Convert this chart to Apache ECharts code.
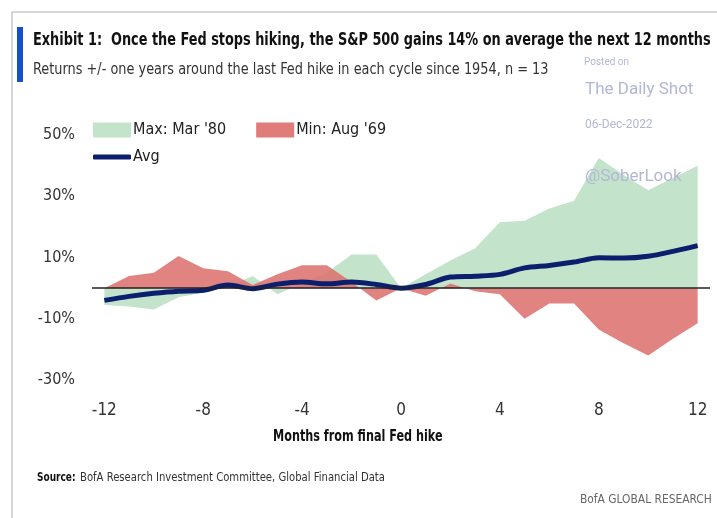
<!DOCTYPE html>
<html>
<head>
<meta charset="utf-8">
<script src="https://cdn.jsdelivr.net/npm/echarts@6/dist/echarts.min.js"></script>
<style>
  html, body { margin: 0; padding: 0; background: #fff; }
  #chart { width: 717px; height: 518px; }
</style>
</head>
<body>
<div id="chart"></div>
<script>
// months around the last hike
const months = ['-12', '-11', '-10', '-9', '-8', '-7', '-6', '-5', '-4', '-3', '-2', '-1', '0',
  '1', '2', '3', '4', '5', '6', '7', '8', '9', '10', '11', '12']
// Max: Mar '80 (%)
const maxMar80 = [-5.5, -6, -7, -3, -1.5, 0.5, 4, -2, 1.5, 5, 11, 11, 0,
  4.5, 9, 13, 21.5, 22, 26, 28.5, 42.5, 37, 32, 36, 40]
// Min: Aug '69 (%)
const minAug69 = [0, 4, 5, 10.5, 6.5, 5.5, 1, 4.5, 7.5, 7.5, 2, -4, 0,
  -2.5, 1.5, -1, -2, -10, -5, -5, -13.5, -18, -22, -16.5, -11.5]
// average of 13 cycles (%)
const avg = [-4, -2.7, -1.7, -1, -0.7, 1, -0.2, 1.3, 2, 1.4, 2, 1.2, 0,
  1.2, 3.6, 3.9, 4.5, 6.6, 7.4, 8.5, 9.9, 9.8, 10.4, 12, 13.9]
const yTicks = { min: -30, max: 50, step: 20 }

const font = "'DejaVu Sans Condensed', 'Liberation Sans Narrow', 'Noto Sans', sans-serif"
const mark = '#b3b7d6' // watermark colour

const myChart = echarts.init(document.getElementById('chart'), null, { renderer: 'canvas' })

// text helper, squeezed a bit to look like the condensed original font
const txt = (x, y, text, f, fill, sx) => ({
  type: 'text', x: x, y: y, z: 100, scaleX: sx || 1,
  style: { text: text, font: f, fill: fill, textVerticalAlign: 'middle' }
})

const option = {
  animation: false,
  backgroundColor: '#fff',
  textStyle: { fontFamily: font },
  grid: { left: 92, right: 7, top: 135, bottom: 138 },
  legend: [
    {
      left: 88, top: 117,
      itemWidth: 38, itemHeight: 15, itemGap: 30,
      icon: 'rect',
      data: ['Max: Mar \'80', 'Min: Aug \'69'],
      textStyle: { fontFamily: font, fontSize: 16, color: '#222', padding: [0, 0, 0, -3] }
    },
    {
      left: 88, top: 144,
      itemWidth: 38, itemHeight: 5,
      icon: 'roundRect',
      data: ['Avg'],
      textStyle: { fontFamily: font, fontSize: 16, color: '#222', padding: [0, 0, 0, -3] }
    }
  ],
  xAxis: {
    type: 'category',
    data: months,
    boundaryGap: true,
    axisLine: { show: false },
    axisTick: { show: false },
    splitLine: { show: false },
    axisLabel: { interval: 3, margin: 22, fontSize: 17, color: '#333', fontFamily: font }
  },
  yAxis: {
    type: 'value',
    min: yTicks.min, max: yTicks.max, interval: yTicks.step,
    axisLine: { show: false },
    axisTick: { show: false },
    splitLine: { show: false },
    axisLabel: { formatter: '{value}%', margin: 17, fontSize: 16, color: '#333', fontFamily: font }
  },
  series: [
    {
      name: 'Max: Mar \'80',
      type: 'line',
      data: maxMar80,
      symbol: 'none',
      z: 1,
      itemStyle: { color: '#c3e3ca' },
      lineStyle: { width: 0 },
      areaStyle: { color: '#c3e3ca', opacity: 1 }
    },
    {
      name: 'Min: Aug \'69',
      type: 'line',
      data: minAug69,
      symbol: 'none',
      z: 2,
      itemStyle: { color: '#e07c7a' },
      lineStyle: { width: 0 },
      areaStyle: { color: '#dc7270', opacity: 0.88 },
      markLine: {
        silent: true,
        symbol: 'none',
        label: { show: false },
        lineStyle: { color: '#222', width: 1.5, type: 'solid' },
        data: [{ yAxis: 0 }]
      }
    },
    {
      name: 'Avg',
      type: 'line',
      data: avg.map((v, i) => i === avg.length - 1
        ? { value: v, label: { show: true, position: 'top', distance: 7, formatter: '14%', fontSize: 18, color: '#222', fontFamily: font } }
        : v),
      symbol: 'none',
      smooth: 0.3,
      z: 3,
      itemStyle: { color: '#0b1f6e' },
      lineStyle: { width: 5, color: '#0b1f6e' }
    }
  ],
  graphic: [
    // frame
    { type: 'line', shape: { x1: 12, y1: 12, x2: 717, y2: 12 }, style: { stroke: '#c8c8c8', lineWidth: 1.5 } },
    { type: 'line', shape: { x1: 12, y1: 12, x2: 12, y2: 518 }, style: { stroke: '#c8c8c8', lineWidth: 1.5 } },
    { type: 'rect', shape: { x: 17, y: 27, width: 6, height: 55 }, style: { fill: '#1450c8' } },
    // titles
    txt(33, 40, 'Exhibit 1:  Once the Fed stops hiking, the S&P 500 gains 14% on average the next 12 months', 'bold 18px ' + font, '#111', 0.795),
    txt(33, 70, 'Returns +/- one years around the last Fed hike in each cycle since 1954, n = 13', '15.5px ' + font, '#333', 0.925),
    // watermark
    txt(584, 62, 'Posted on', '10px Roboto, sans-serif', mark),
    txt(585, 90, 'The Daily Shot', '17px Roboto, sans-serif', mark),
    txt(585, 125, '06-Dec-2022', '12px Roboto, sans-serif', mark),
    txt(585, 177, '@SoberLook', '17px Roboto, sans-serif', mark),
    // axis name
    txt(273, 437, 'Months from final Fed hike', 'bold 16px ' + font, '#111', 0.78),
    // source
    txt(37, 478, 'Source:', 'bold 12.5px ' + font, '#111', 0.8),
    txt(80, 478, 'BofA Research Investment Committee, Global Financial Data', '12.5px ' + font, '#333', 0.895),
    txt(580, 500, 'BofA GLOBAL RESEARCH', '12.5px ' + font, '#666', 0.95)
  ]
}

option && myChart.setOption(option)
</script>
</body>
</html>
